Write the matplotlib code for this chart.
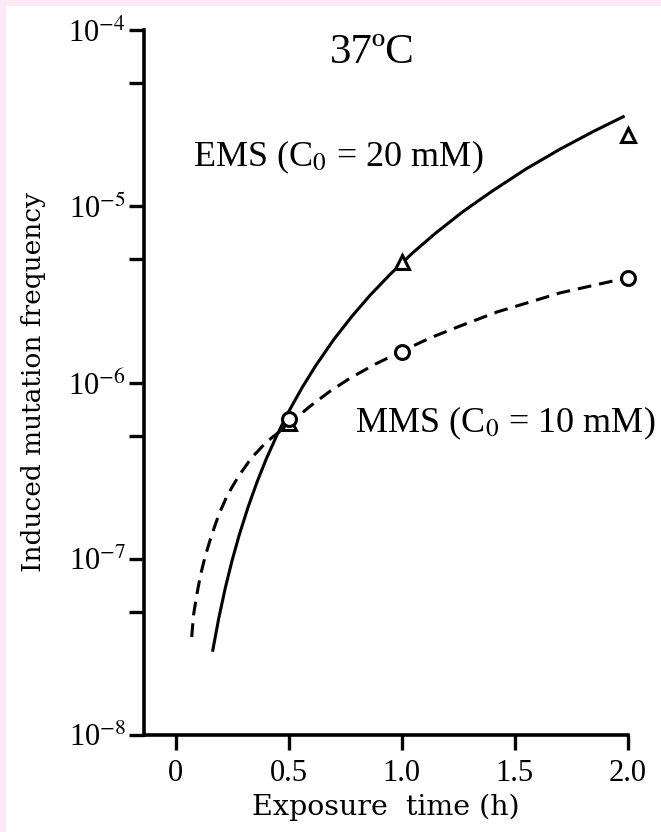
import matplotlib
matplotlib.use("Agg")
import matplotlib.pyplot as plt
from matplotlib.patches import Rectangle
from matplotlib.ticker import FixedLocator, FixedFormatter

plt.rcParams['mathtext.fontset'] = 'stix'

# ---- data ----
ems_t = [0.5, 1.0, 2.0]
ems_f = [5.9e-7, 4.83e-6, 2.54e-5]
mms_t = [0.5, 1.0, 2.0]
mms_f = [6.2e-7, 1.49e-6, 3.92e-6]

ems_curve_t = [0.163, 0.19, 0.22, 0.25, 0.28, 0.32, 0.36, 0.40, 0.45, 0.50, 0.56, 0.62, 0.70,
               0.78, 0.86, 0.95, 1.05, 1.15, 1.27, 1.40, 1.55, 1.70, 1.85, 1.985]
ems_curve_f = [2.97e-8, 4.56e-8, 6.88e-8, 9.83e-8, 1.35e-7, 1.96e-7, 2.73e-7, 3.67e-7, 5.10e-7,
               6.85e-7, 9.4e-7, 1.25e-6, 1.76e-6, 2.38e-6, 3.13e-6, 4.13e-6, 5.47e-6, 7.05e-6,
               9.32e-6, 1.22e-5, 1.63e-5, 2.11e-5, 2.67e-5, 3.25e-5]

mms_curve_t = [0.071, 0.079, 0.093, 0.110, 0.132, 0.159, 0.190, 0.229, 0.278, 0.335, 0.401,
               0.468, 0.516, 0.596, 0.684, 0.772, 0.882, 0.993, 1.125, 1.257, 1.420, 1.566,
               1.698, 1.853, 1.994]
mms_curve_f = [3.60e-8, 4.80e-8, 6.22e-8, 8.09e-8, 1.05e-7, 1.36e-7, 1.77e-7, 2.30e-7, 2.94e-7,
               3.73e-7, 4.59e-7, 5.37e-7, 6.05e-7, 7.36e-7, 8.95e-7, 1.06e-6, 1.27e-6, 1.49e-6,
               1.79e-6, 2.09e-6, 2.51e-6, 2.86e-6, 3.22e-6, 3.57e-6, 3.92e-6]

x_ticks = [0, 0.5, 1.0, 1.5, 2.0]
x_tick_labels = ["0", "0.5", "1.0", "1.5", "2.0"]
y_ticks = [1e-8, 1e-7, 1e-6, 1e-5, 1e-4]
y_tick_labels = [r"10$^{-8}$", r"10$^{-7}$", r"10$^{-6}$", r"10$^{-5}$", r"10$^{-4}$"]
y_minor = [5e-8, 5e-7, 5e-6, 5e-5]

W, H = 661, 832
fig = plt.figure(figsize=(W / 100, H / 100), dpi=100)
fig.patch.set_facecolor('#fce8f6')
fig.add_artist(Rectangle((6 / W, 0), 1, 1 - 6 / H, transform=fig.transFigure,
                         facecolor='white', edgecolor='none', zorder=0))

ax = fig.add_axes([144 / W, 1 - 735 / H, (628 - 144) / W, (735 - 30) / H])
ax.set_facecolor('none')
ax.set_yscale('log')
ax.set_xlim(-0.14, 2.0)
ax.set_ylim(1e-8, 1e-4)

for s in ['top', 'right']:
    ax.spines[s].set_visible(False)
for s in ['left', 'bottom']:
    ax.spines[s].set_linewidth(2.6)

ax.plot(ems_curve_t, ems_curve_f, color='black', lw=2.2, solid_capstyle='butt',
        solid_joinstyle='round')
ax.plot(mms_curve_t, mms_curve_f, color='black', lw=2.2, dashes=(4.5, 2.6))
ax.plot(ems_t, ems_f, linestyle='none', marker='^', ms=10, mfc='white', mec='black',
        mew=2.2, clip_on=False, zorder=5)
ax.plot(mms_t, mms_f, linestyle='none', marker='o', ms=10, mfc='white', mec='black',
        mew=2.2, clip_on=False, zorder=5)

ax.xaxis.set_major_locator(FixedLocator(x_ticks))
ax.xaxis.set_major_formatter(FixedFormatter(x_tick_labels))
ax.yaxis.set_major_locator(FixedLocator(y_ticks))
ax.yaxis.set_major_formatter(FixedFormatter(y_tick_labels))
ax.yaxis.set_minor_locator(FixedLocator(y_minor))
ax.yaxis.set_minor_formatter(FixedFormatter([""] * len(y_minor)))

ax.tick_params(axis='y', which='both', direction='out', length=11, width=2.4, pad=2)
ax.tick_params(axis='x', which='major', direction='out', length=11, width=2.4, pad=6)
for lab in ax.get_xticklabels() + ax.get_yticklabels():
    lab.set_fontfamily('Liberation Serif')
    lab.set_fontsize(22)

ax.set_xlabel("Exposure  time (h)", family='DejaVu Serif', fontsize=20.5, labelpad=4)
ax.set_ylabel("Induced mutation frequency", family='DejaVu Serif', fontsize=19, labelpad=16)

ax.text(0.87, 10 ** -4.13, "37ºC", family='Liberation Serif', fontsize=31,
        ha='center', va='center')
ax.text(0.075, 10 ** -4.72, r"EMS (C$_0$ = 20 mM)", family='Liberation Serif', fontsize=26,
        ha='left', va='center')
ax.text(0.794, 10 ** -6.23, r"MMS (C$_0$ = 10 mM)", family='Liberation Serif', fontsize=26,
        ha='left', va='center')

fig.savefig("out.png", dpi=100, facecolor=fig.get_facecolor())
